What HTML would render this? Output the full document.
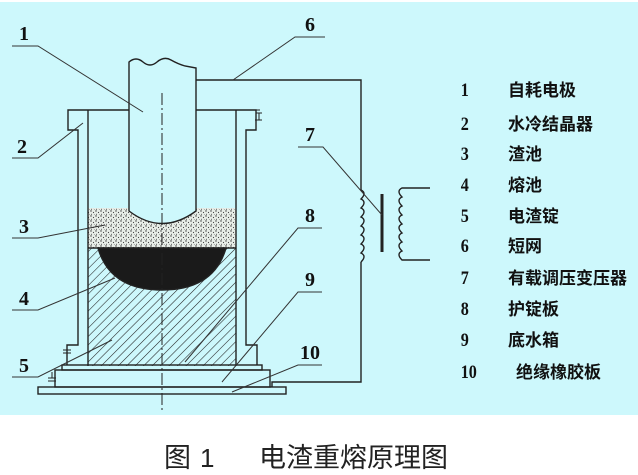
<!DOCTYPE html>
<html><head><meta charset="utf-8"><style>
body{margin:0;background:#fff;width:638px;height:475px;overflow:hidden}
svg{display:block}
</style></head><body>
<svg width="638" height="475" viewBox="0 0 638 475" xmlns="http://www.w3.org/2000/svg">
<defs>
<pattern id="hatch" width="6" height="6" patternUnits="userSpaceOnUse" patternTransform="rotate(45)">
<line x1="0" y1="0" x2="0" y2="6" stroke="#222" stroke-width="1.1"/>
</pattern>
<pattern id="dots" width="5" height="5" patternUnits="userSpaceOnUse">
<rect width="5" height="5" fill="#e8eee8"/>
<circle cx="1" cy="1" r="0.7" fill="#333"/><circle cx="3.5" cy="2.5" r="0.6" fill="#444"/><circle cx="1.5" cy="4.2" r="0.5" fill="#333"/><circle cx="4.3" cy="4.5" r="0.4" fill="#555"/>
</pattern>
</defs>
<rect x="0" y="2" width="638" height="413" fill="#cdf8fc"/>
<g stroke="#222" stroke-width="1.4" fill="none">
<rect x="88" y="248" width="148" height="118" fill="url(#hatch)" stroke="none"/>
<path d="M88 208 H129 Q162 236 196 208 H236 V248 H88 Z" fill="url(#dots)" stroke="none"/>
<line x1="88" y1="248" x2="236" y2="248"/>
<path d="M98 248 Q110 290 162 290 Q214 290 226 248 Z" fill="#1a1a1a"/>
<path d="M129 211 V62 Q136 56 143 62 Q150 68 157 62 Q164 56 171 60 Q178 64 185 66 L196 68 V211 Q162 236 129 211 Z" fill="#cdf8fc"/>
<path d="M129 110 H68 V130 H78 V345 H67 V365"/>
<path d="M88 110 V366"/>
<path d="M196 110 H256 V130 H246 V345 H257 V365"/>
<path d="M236 110 V366"/>
<rect x="62" y="365" width="200" height="5"/>
<rect x="55" y="370" width="215" height="17"/>
<rect x="38" y="387" width="248" height="7"/>
<path d="M196 80 H361 V190"/>
<path d="M361 190 q6 3 0 9 q6 3 0 9 q6 3 0 9 q6 3 0 9 q6 3 0 9 q6 3 0 9 q6 3 0 9 q6 3 0 9"/>
<path d="M361 262 V382 H272 V387"/>
<line x1="382" y1="194" x2="382" y2="252" stroke-width="3"/>
<path d="M430 188 H402 q-6 3 0 9 q-6 3 0 9 q-6 3 0 9 q-6 3 0 9 q-6 3 0 9 q-6 3 0 9 q-6 3 0 9 q-6 3 0 9 H430"/>
<path d="M256 110 H260 M256 113 H262 M259 113 V120 M255 120 H262" stroke-width="1"/>
<path d="M67 345 V350 M63 350 H71 M63 353 H71" stroke-width="1"/>
<path d="M52 372 V378 M48 378 H56 M48 381 H56" stroke-width="1"/>
<line x1="162" y1="93" x2="162" y2="410" stroke-width="1" stroke-dasharray="12,3,2,3"/>
</g>
<g stroke="#333" stroke-width="1" fill="none">
<path d="M12 46 H38 L143 112"/>
<path d="M12 158 H38 L83 123"/>
<path d="M12 238 H38 L105 225"/>
<path d="M12 310 H38 L115 278"/>
<path d="M12 377 H38 L112 340"/>
<path d="M325 37 H295 L233 80"/>
<path d="M298 147 H323 L382 215"/>
<path d="M322 228 H298 L185 362"/>
<path d="M322 292 H298 L222 382"/>
<path d="M322 365 H298 L232 392"/>
</g>
<g font-family="Liberation Serif, serif" font-size="20" fill="#111" font-weight="bold">
<text x="19" y="40">1</text>
<text x="17" y="153">2</text>
<text x="19" y="233">3</text>
<text x="19" y="305">4</text>
<text x="19" y="372">5</text>
<text x="305" y="31">6</text>
<text x="305" y="141">7</text>
<text x="305" y="222">8</text>
<text x="305" y="286">9</text>
<text x="300" y="359">10</text>
</g>
<g font-family="Liberation Serif, 'Noto Sans CJK SC', serif" font-size="17" fill="#111" font-weight="bold">
<g font-size="19" transform="scale(0.85,1)">
<text x="542" y="96">1</text>
<text x="542" y="130">2</text>
<text x="542" y="160">3</text>
<text x="542" y="191">4</text>
<text x="542" y="222">5</text>
<text x="542" y="252">6</text>
<text x="542" y="284">7</text>
<text x="542" y="315">8</text>
<text x="542" y="346">9</text>
<text x="542" y="378">10</text>
</g>
<text x="508" y="96">自耗电极</text>
<text x="508" y="130">水冷结晶器</text>
<text x="508" y="160">渣池</text>
<text x="508" y="191">熔池</text>
<text x="508" y="222">电渣锭</text>
<text x="508" y="252">短网</text>
<text x="508" y="284">有载调压变压器</text>
<text x="508" y="315">护锭板</text>
<text x="508" y="346">底水箱</text>
<text x="516" y="378">绝缘橡胶板</text>
</g>
<g font-family="'Noto Sans CJK SC', sans-serif" font-size="27" fill="#222">
<text x="164" y="467">图</text><text x="200" y="467" font-family="Liberation Sans, sans-serif" font-size="26">1</text>
<text x="259" y="467">电渣重熔原理图</text>
</g>
</svg>
</body></html>
